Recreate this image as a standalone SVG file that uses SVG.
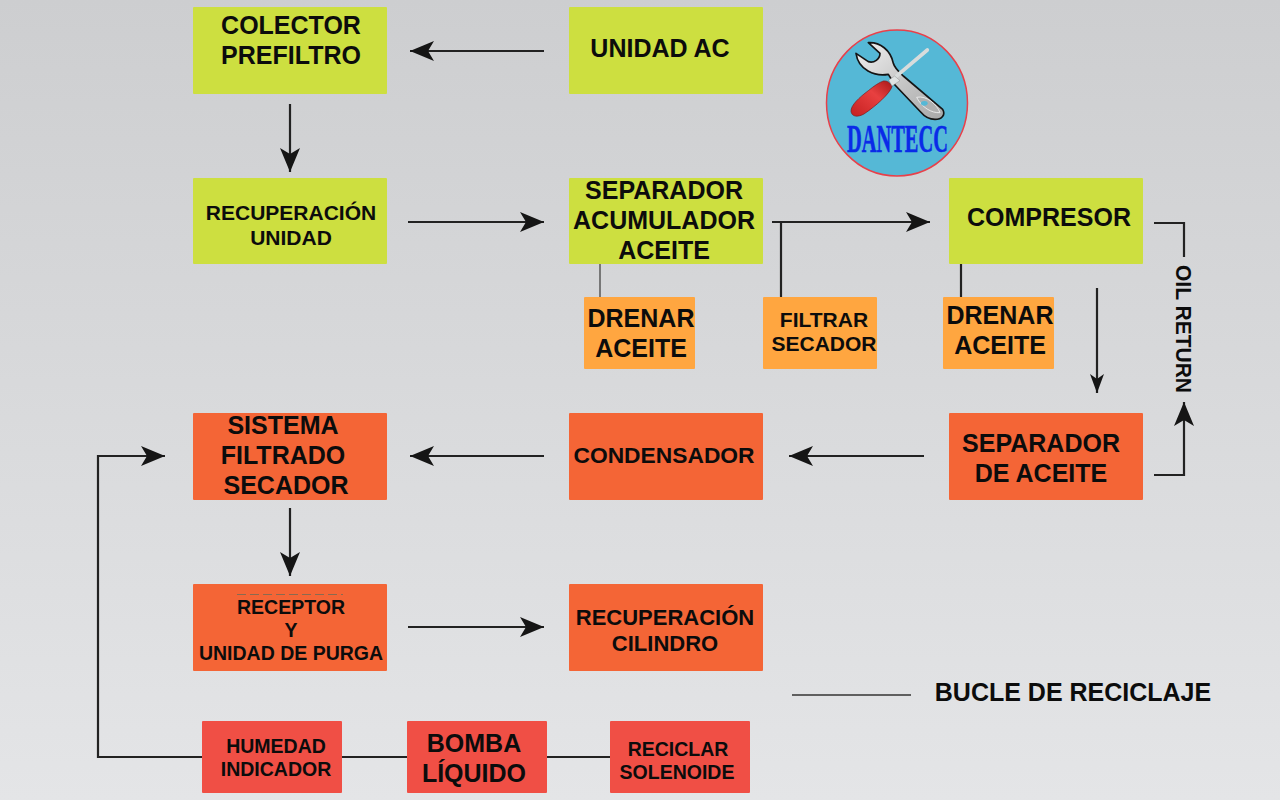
<svg xmlns="http://www.w3.org/2000/svg" width="1280" height="800" viewBox="0 0 1280 800">
<defs>
<linearGradient id="bg" x1="0" y1="0" x2="0" y2="1"><stop offset="0" stop-color="#cdced0"/><stop offset="1" stop-color="#e4e5e7"/></linearGradient>
<linearGradient id="steel" x1="0" y1="0" x2="1" y2="1"><stop offset="0" stop-color="#f2f2f2"/><stop offset="0.55" stop-color="#c4c4c4"/><stop offset="1" stop-color="#a8a8a8"/></linearGradient>
<linearGradient id="red" x1="0" y1="1" x2="1" y2="0"><stop offset="0" stop-color="#c52020"/><stop offset="0.6" stop-color="#e84040"/><stop offset="1" stop-color="#a81818"/></linearGradient>
<marker id="a" markerUnits="userSpaceOnUse" markerWidth="26" markerHeight="22" refX="24" refY="11" orient="auto"><path d="M0 1 L24 11 L0 21 L6 11 Z" fill="#151515"/></marker>
<marker id="s" markerUnits="userSpaceOnUse" markerWidth="20" markerHeight="16" refX="19" refY="8" orient="auto"><path d="M0 1 L19 8 L0 15 L5 8 Z" fill="#151515"/></marker>
</defs>
<style>
text{font-family:"Liberation Sans",Arial,sans-serif;font-weight:700;fill:#0c0c0c;text-anchor:middle}
.g{fill:#cddf40}.o{fill:#ffa640}.r{fill:#f46536}.d{fill:#f04f45}
.c{fill:none;stroke:#222;stroke-width:2.2}.y{fill:none;stroke:#777;stroke-width:2}
.a{marker-end:url(#a)}.s{marker-end:url(#s)}
.t25{font-size:25px}.t23{font-size:22.8px}.t22{font-size:22px}.t21{font-size:21px}.t195{font-size:19.5px}
</style>
<rect width="1280" height="800" fill="url(#bg)"/>
<g id="connectors">
<path class="c a" d="M544 51H410"/>
<path class="c a" d="M290 104V172"/>
<path class="c a" d="M408 222H544"/>
<path class="c a" d="M772 222H930"/>
<path class="c" d="M781 222V298"/>
<path class="y" d="M600 264V298"/>
<path class="c" d="M961 264V298"/>
<path class="c" d="M1154 223H1184V257"/>
<path class="c a" d="M1154 475H1184V402"/>
<path class="c s" d="M1097 288V393"/>
<path class="c a" d="M924 456H789"/>
<path class="c a" d="M544 456H410"/>
<path class="c a" d="M290 508V576"/>
<path class="c a" d="M408 627H544"/>
<path class="c a" d="M202 757H98V456H165"/>
<path class="c" d="M342 757H407M547 757H610"/>
<path d="M792 695H911" fill="none" stroke="#333" stroke-width="1.6"/>
</g>
<g id="n1"><rect class="g" x="193" y="7" width="194" height="87" rx="1"/><text class="t25" x="291" y="34">COLECTOR</text><text class="t25" x="291" y="64">PREFILTRO</text></g>
<g id="n2"><rect class="g" x="569" y="7" width="194" height="87" rx="1"/><text class="t25" x="660" y="57">UNIDAD AC</text></g>
<g id="n3"><rect class="g" x="193" y="178" width="194" height="86" rx="1"/><text class="t21" x="291" y="220">RECUPERACIÓN</text><text class="t21" x="291" y="245">UNIDAD</text></g>
<g id="n4"><rect class="g" x="569" y="178" width="194" height="86" rx="1"/><text class="t25" x="664" y="199">SEPARADOR</text><text class="t25" x="664" y="229">ACUMULADOR</text><text class="t25" x="664" y="259">ACEITE</text></g>
<g id="n5"><rect class="g" x="949" y="178" width="194" height="86" rx="1"/><text class="t25" x="1049" y="226">COMPRESOR</text></g>
<g id="n6"><rect class="o" x="584" y="297" width="111" height="72" rx="1"/><text class="t25" x="641" y="327">DRENAR</text><text class="t25" x="641" y="357">ACEITE</text></g>
<g id="n7"><rect class="o" x="763" y="297" width="114" height="72" rx="1"/><text class="t21" x="824" y="327">FILTRAR</text><text class="t21" x="824" y="351">SECADOR</text></g>
<g id="n8"><rect class="o" x="943" y="297" width="111" height="72" rx="1"/><text class="t25" x="1000" y="324">DRENAR</text><text class="t25" x="1000" y="354">ACEITE</text></g>
<g id="n9"><rect class="r" x="949" y="413" width="194" height="87" rx="1"/><text class="t25" x="1041" y="452">SEPARADOR</text><text class="t25" x="1041" y="482">DE ACEITE</text></g>
<g id="n10"><rect class="r" x="569" y="413" width="194" height="87" rx="1"/><text class="t23" x="664" y="463">CONDENSADOR</text></g>
<g id="n11"><rect class="r" x="193" y="413" width="194" height="87" rx="1"/><text class="t25" x="283" y="434">SISTEMA</text><text class="t25" x="283" y="464">FILTRADO</text><text class="t25" x="286" y="494">SECADOR</text></g>
<g id="n12"><rect class="r" x="193" y="584" width="194" height="87" rx="1"/><path d="M237 594.500H343" stroke="#8a6a50" stroke-width="1" stroke-dasharray="9 4" fill="none"/><text class="t195" x="291" y="614">RECEPTOR</text><text class="t195" x="291" y="637">Y</text><text class="t195" x="291" y="660">UNIDAD DE PURGA</text></g>
<g id="n13"><rect class="r" x="569" y="584" width="194" height="87" rx="1"/><text class="t22" x="665" y="625">RECUPERACIÓN</text><text class="t22" x="665" y="651">CILINDRO</text></g>
<g id="n14"><rect class="d" x="202" y="721" width="140" height="72" rx="1"/><text class="t195" x="276" y="753">HUMEDAD</text><text class="t195" x="276" y="776">INDICADOR</text></g>
<g id="n15"><rect class="d" x="407" y="721" width="140" height="72" rx="1"/><text class="t25" x="474" y="752">BOMBA</text><text class="t25" x="474" y="782">LÍQUIDO</text></g>
<g id="n16"><rect class="d" x="610" y="721" width="140" height="72" rx="1"/><text class="t195" x="678" y="756">RECICLAR</text><text class="t195" x="677" y="779">SOLENOIDE</text></g>
<g id="oil"><text class="t22" transform="translate(1176 329) rotate(90)" textLength="128" lengthAdjust="spacingAndGlyphs">OIL RETURN</text></g>
<g id="legend"><text class="t25" x="1073" y="701">BUCLE DE RECICLAJE</text></g>
<g id="logo">
<ellipse cx="897" cy="103" rx="70.500" ry="73" fill="#55b8d6" stroke="#e8404a" stroke-width="1.500"/>
<g transform="translate(800 20) scale(.3333)">
<path d="M205 68C240 66 272 90 280 130C284 145 296 155 310 168L428 268C438 285 425 298 405 298C388 298 372 288 362 276L285 195L265 163C225 170 175 150 168 100L205 125C222 130 240 118 240 100Z" fill="url(#steel)" stroke="#151515" stroke-width="5" stroke-linejoin="round"/>
<path d="M350 232C380 225 412 255 420 278C395 280 365 262 350 232Z" fill="#b0b0b0" stroke="#e8e8e8" stroke-width="3"/>
<ellipse cx="373" cy="250" rx="10" ry="7" fill="#55b8d6"/>
<path d="M285 172L382 90" stroke="#d8dcdc" stroke-width="11" stroke-linecap="round" fill="none"/>
<path d="M250 183C262 182 272 188 276 200C270 220 228 258 192 282C172 293 155 290 153 274C152 256 178 232 205 212C222 198 238 187 250 183Z" fill="url(#red)" stroke="#7a1a1a" stroke-width="2"/>
<path d="M266 180L284 168L300 182L276 198Z" fill="#dfe3e3" stroke="#666" stroke-width="1"/>
</g>
<text x="897.500" y="152" style="font-family:'Liberation Serif',serif;font-size:39px;fill:#0a2be8;stroke:#0a2be8;stroke-width:.6" textLength="101" lengthAdjust="spacingAndGlyphs">DANTECC</text>
</g>
</svg>
